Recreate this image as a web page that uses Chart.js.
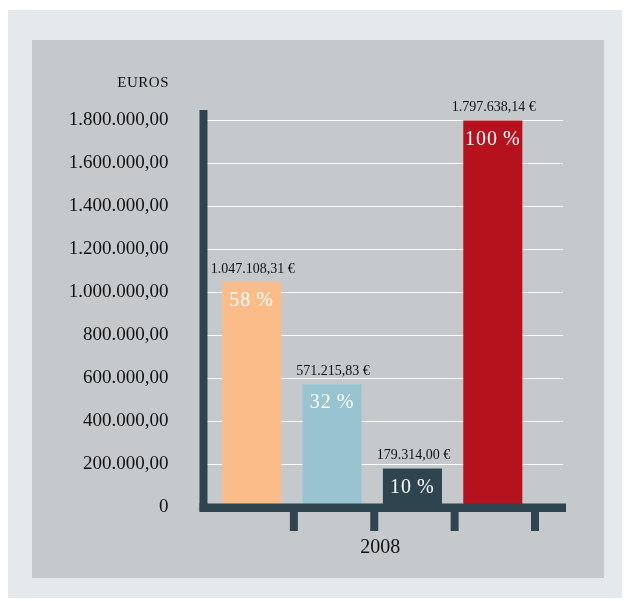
<!DOCTYPE html>
<html>
<head>
<meta charset="utf-8">
<script src="https://cdn.jsdelivr.net/npm/chart.js@4.4.1/dist/chart.umd.min.js"></script>
<style>
    body { margin: 0; background: #ffffff; }
    .outer {
        position: absolute; left: 8px; top: 10px; width: 614px; height: 588px;
        background: #e5e9ec;
    }
    .panel {
        position: absolute; left: 32px; top: 40px; width: 572px; height: 538px;
        background: #c5c9cc;
    }
</style>
</head>
<body>
<div class="outer"></div>
<div class="panel"><canvas id="chart" width="572" height="538"></canvas></div>
<script>
// Datos
const year = '2008';
const categories = ['A', 'B', 'C', 'D'];
const amounts = [1047108.31, 571215.83, 179314.00, 1797638.14];
const percents = ['58\u2009%', '32\u2009%', '10\u2009%', '100\u2009%'];
const barColors = ['#fbbc89', '#98c4d2', '#2e4550', '#b5121e'];
const yTicks = [0, 200000, 400000, 600000, 800000, 1000000, 1200000, 1400000, 1600000, 1800000];

const axisColor = '#2e4550';
const serif = '"Liberation Serif", "DejaVu Serif", serif';

// 1.800.000,00
const fmt = (v, dec) => {
    const parts = v.toFixed(dec).split('.');
    const int = parts[0].replace(/\B(?=(\d{3})+(?!\d))/g, '.');
    return parts[1] ? `${int},${parts[1]}` : int;
};

// lineas blancas + ejes gruesos + textos
const decor = {
    id: 'decor',
    beforeDatasetsDraw(chart) {
        const { ctx, chartArea, scales: { y } } = chart;
        ctx.save();
        ctx.strokeStyle = '#ffffff';
        ctx.lineWidth = 1;
        yTicks.slice(1).forEach(v => {
            const py = Math.round(y.getPixelForValue(v)) + 0.5;
            ctx.beginPath();
            ctx.moveTo(chartArea.left - 5, py);
            ctx.lineTo(chartArea.right + 30, py);
            ctx.stroke();
        });
        ctx.restore();
    },
    afterDatasetsDraw(chart) {
        const { ctx, chartArea, scales: { x, y } } = chart;
        const zero = y.getPixelForValue(0);
        const half = (x.getPixelForValue(1) - x.getPixelForValue(0)) / 2;
        ctx.save();

        // ejes
        ctx.fillStyle = axisColor;
        const left = chartArea.left - 12;
        ctx.fillRect(left, chartArea.top - 10, 8, zero + 4.5 - (chartArea.top - 10));
        ctx.fillRect(left, zero - 3.5, chartArea.right + 33 - left, 8.5);
        categories.forEach((c, i) => {
            const px = x.getPixelForValue(i) + half + 2;
            ctx.fillRect(px - 4, zero, 8, 24);
        });

        // valores y porcentajes
        const meta = chart.getDatasetMeta(0);
        meta.data.forEach((bar, i) => {
            ctx.textAlign = 'center';
            ctx.textBaseline = 'middle';
            ctx.fillStyle = '#111111';
            ctx.font = `14px ${serif}`;
            ctx.fillText(`${fmt(amounts[i], 2)} €`, bar.x + 1, bar.y - 13);
            ctx.fillStyle = '#ffffff';
            ctx.font = `20px ${serif}`;
            ctx.letterSpacing = '1px';
            ctx.fillText(percents[i], bar.x, bar.y + 19);
            ctx.letterSpacing = '0px';
        });

        // EUROS y año
        ctx.fillStyle = '#111111';
        ctx.font = `15px ${serif}`;
        ctx.letterSpacing = '0.5px';
        ctx.textAlign = 'right';
        ctx.fillText('EUROS', 137, 43);
        ctx.letterSpacing = '0px';
        ctx.font = `20px ${serif}`;
        ctx.textAlign = 'center';
        ctx.fillText(year, (chartArea.left + chartArea.right) / 2 + 8, 508);
        ctx.restore();
    }
};

const ctx = document.getElementById('chart').getContext('2d');
const chart = new Chart(ctx, {
    type: 'bar',
    data: {
        labels: categories,
        datasets: [{
            data: amounts,
            backgroundColor: barColors,
            borderWidth: 0,
            barPercentage: 0.735,
            categoryPercentage: 1
        }]
    },
    options: {
        responsive: false,
        animation: false,
        layout: { padding: { left: 36, top: 80, right: 71, bottom: 71 } },
        plugins: {
            legend: { display: false },
            tooltip: { enabled: false }
        },
        scales: {
            x: { display: false },
            y: {
                min: 0,
                max: 1800000,
                afterFit(scale) { scale.width = 143.5; },
                afterBuildTicks(scale) { scale.ticks = yTicks.map(v => ({ value: v })); },
                grid: { display: false, drawTicks: false },
                border: { display: false },
                ticks: {
                    padding: 43,
                    color: '#111111',
                    font: { family: serif, size: 19 },
                    callback: v => v === 0 ? '0' : fmt(v, 2)
                }
            }
        }
    },
    plugins: [decor]
});
</script>
</body>
</html>
